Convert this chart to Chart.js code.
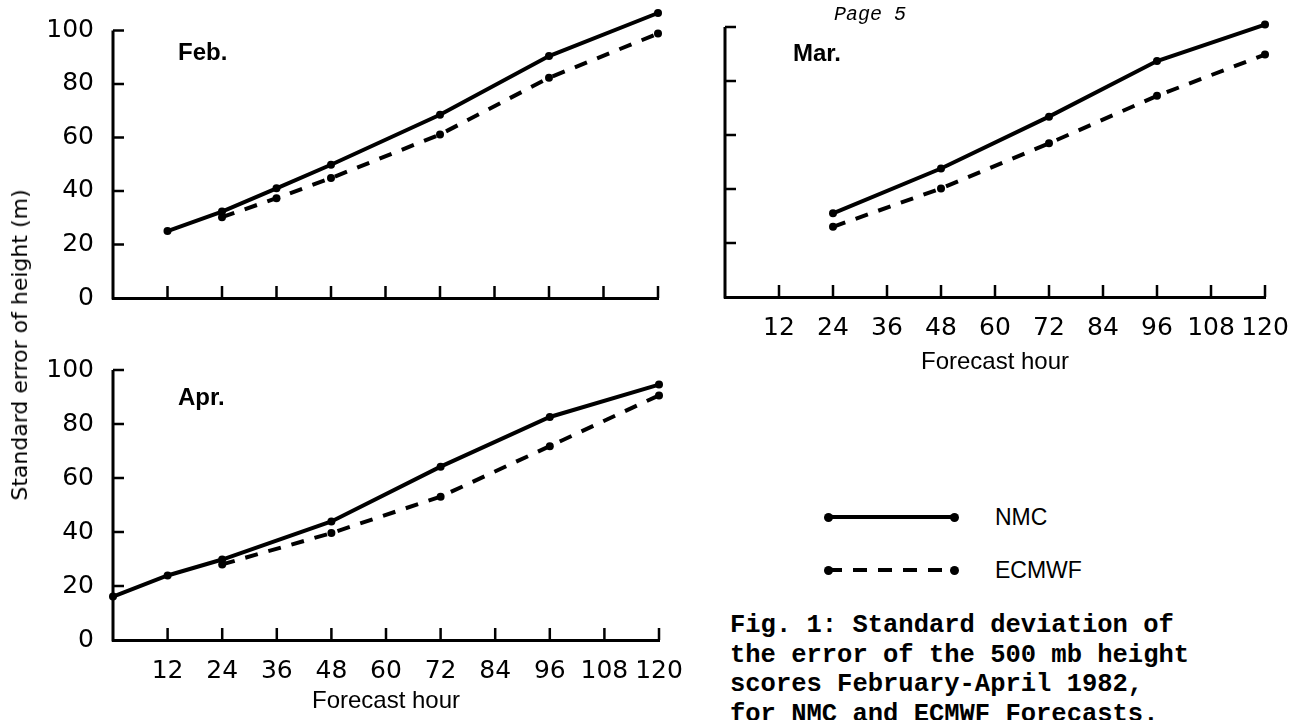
<!DOCTYPE html>
<html>
<head>
<meta charset="utf-8">
<script src="https://cdn.jsdelivr.net/npm/chart.js@4.4.0/dist/chart.umd.min.js"></script>
<style>
  body { margin: 0; background: #fff; width: 1300px; height: 720px; position: relative; overflow: hidden;
         font-family: "Liberation Sans", Arial, sans-serif; color: #000; }
  .panel { position: absolute; }
  .txt { position: absolute; white-space: nowrap; line-height: 1; }
  .month { font-weight: bold; font-size: 24px; }
  .ytitle { left: 20px; top: 345px; font-family: "DejaVu Sans", sans-serif; font-size: 22px;
            transform: translate(-50%, -50%) rotate(-90deg); }
  .leg { position: absolute; height: 0; }
  .dot { position: absolute; width: 9px; height: 9px; border-radius: 50%; background: #000; }
  .legtxt { font-size: 23px; }
  .caption { left: 730px; top: 611px; font-family: "Liberation Mono", "Courier New", monospace; font-weight: bold;
             font-size: 25.5px; line-height: 29.5px; white-space: pre; }
  .page { left: 834px; top: 5px; font-family: "Liberation Mono", monospace; font-style: italic; font-size: 20px; }
</style>
</head>
<body>

<div class="panel" style="left:0;top:0;width:700px;height:330px"><canvas id="feb"></canvas></div>
<div class="panel" style="left:600px;top:0;width:700px;height:377px"><canvas id="mar"></canvas></div>
<div class="panel" style="left:0;top:340px;width:700px;height:376px"><canvas id="apr"></canvas></div>

<div class="txt month" style="left:178px;top:40px">Feb.</div>
<div class="txt month" style="left:793px;top:41px">Mar.</div>
<div class="txt month" style="left:178px;top:385px">Apr.</div>
<div class="txt ytitle">Standard error of height (m)</div>
<div class="txt page">Page 5</div>

<!-- legend -->
<div class="leg" style="left:828px;top:515px;width:127px;border-top:4px solid #000">
  <div class="dot" style="left:-4px;top:-6.5px"></div><div class="dot" style="right:-4px;top:-6.5px"></div>
</div>
<div class="leg" style="left:828px;top:568px;width:127px;height:4px;background:repeating-linear-gradient(90deg,#000 0 14px,transparent 14px 25px)">
  <div class="dot" style="left:-4px;top:-2.5px"></div><div class="dot" style="right:-4px;top:-2.5px"></div>
</div>
<div class="txt legtxt" style="left:995px;top:506px">NMC</div>
<div class="txt legtxt" style="left:995px;top:559px">ECMWF</div>

<div class="txt caption">Fig. 1: Standard deviation of
the error of the 500 mb height
scores February-April 1982,
for NMC and ECMWF Forecasts.</div>

<script>
// Forecast hours and error values (m)
const febNmcHours   = [12, 24, 36, 48, 72, 96, 120];
const febNmc        = [25, 32.3, 41, 49.8, 68.5, 90.4, 106.5];
const febEcmwfHours = [24, 36, 48, 72, 96, 120];
const febEcmwf      = [30.2, 37.3, 44.8, 61.1, 82.3, 98.8];

const marNmcHours   = [24, 48, 72, 96, 120];
const marNmc        = [31, 47.6, 66.8, 87.4, 100.9];
const marEcmwfHours = [24, 48, 72, 96, 120];
const marEcmwf      = [26, 40.2, 56.9, 74.5, 89.8];

const aprNmcHours   = [0, 12, 24, 48, 72, 96, 120];
const aprNmc        = [16.1, 23.9, 29.8, 43.9, 64.2, 82.6, 94.6];
const aprEcmwfHours = [24, 48, 72, 96, 120];
const aprEcmwf      = [28, 39.6, 53.1, 71.8, 90.6];

const xTicks = [12, 24, 36, 48, 60, 72, 84, 96, 108, 120];
const yTicks = [20, 40, 60, 80, 100];
const yLabelValues = [0, 20, 40, 60, 80, 100];
const yTop = 100;

const pts = (hours, vals) => hours.map((h, i) => ({ x: h, y: vals[i] }));

// y axis line (stops at 100 even when the scale runs higher) and short inward tick marks
const tickMarks = {
  id: 'tickMarks',
  afterDraw(chart) {
    const { ctx, chartArea: a, scales: { x, y } } = chart;
    ctx.save();
    ctx.strokeStyle = '#000';
    ctx.lineWidth = 3;
    ctx.beginPath();
    ctx.moveTo(a.left, y.getPixelForValue(0) + 1.5);
    ctx.lineTo(a.left, y.getPixelForValue(yTop));
    ctx.stroke();
    ctx.lineWidth = 2.5;
    ctx.beginPath();
    xTicks.forEach(v => {
      const px = x.getPixelForValue(v);
      ctx.moveTo(px, a.bottom);
      ctx.lineTo(px, a.bottom - 12);
    });
    yTicks.forEach(v => {
      const py = y.getPixelForValue(v);
      ctx.moveTo(a.left, py);
      ctx.lineTo(a.left + 11, py);
    });
    ctx.stroke();
    ctx.restore();
  }
};

function makeChart(id, nmc, ecmwf, o) {
  new Chart(document.getElementById(id), {
    type: 'line',
    data: {
      datasets: [
        { label: 'NMC', data: nmc, borderColor: '#000', borderWidth: 4, tension: 0, clip: false,
          pointRadius: 4, pointBackgroundColor: '#000', pointBorderWidth: 0 },
        { label: 'ECMWF', data: ecmwf, borderColor: '#000', borderWidth: 4, borderDash: [13, 11], tension: 0, clip: false,
          pointRadius: 4, pointBackgroundColor: '#000', pointBorderWidth: 0 }
      ]
    },
    options: {
      responsive: true,
      maintainAspectRatio: false,
      animation: false,
      events: [],
      layout: { padding: o.pad },
      plugins: { legend: { display: false }, tooltip: { enabled: false } },
      scales: {
        x: {
          type: 'linear', min: 0, max: 120,
          afterFit: s => { s.height = o.xh; },
          grid: { display: false },
          border: { color: '#000', width: 3 },
          ticks: { display: o.xLabels, stepSize: 12, padding: 8, color: '#000', autoSkip: false, maxRotation: 0,
                   font: { family: 'DejaVu Sans', size: 25 }, callback: v => v === 0 ? '' : v },
          title: { display: o.xLabels, text: 'Forecast hour', color: '#000', padding: 0,
                   font: { family: 'Liberation Sans', size: 24 } }
        },
        y: {
          min: 0, max: o.yMax,
          afterBuildTicks: s => { s.ticks = yLabelValues.map(v => ({ value: v })); },
          afterFit: s => { s.width = o.yw; s.paddingTop = 0; s.paddingBottom = 0; },
          grid: { display: false },
          border: { display: false },
          ticks: { display: o.yLabels, padding: 11, color: '#000',
                   font: { family: 'DejaVu Sans', size: 25 } }
        }
      }
    },
    plugins: [tickMarks]
  });
}

makeChart('feb', pts(febNmcHours, febNmc), pts(febEcmwfHours, febEcmwf),
  { pad: { left: 0, top: 9, right: 42, bottom: 0 }, xh: 32, yw: 113, yMax: 108, xLabels: false, yLabels: true });
makeChart('mar', pts(marNmcHours, marNmc), pts(marEcmwfHours, marEcmwf),
  { pad: { left: 0, top: 27, right: 35, bottom: 0 }, xh: 80, yw: 125, yMax: 100, xLabels: true, yLabels: false });
makeChart('apr', pts(aprNmcHours, aprNmc), pts(aprEcmwfHours, aprEcmwf),
  { pad: { left: 0, top: 30, right: 41, bottom: 0 }, xh: 76, yw: 113, yMax: 100, xLabels: true, yLabels: true });
</script>
</body>
</html>
